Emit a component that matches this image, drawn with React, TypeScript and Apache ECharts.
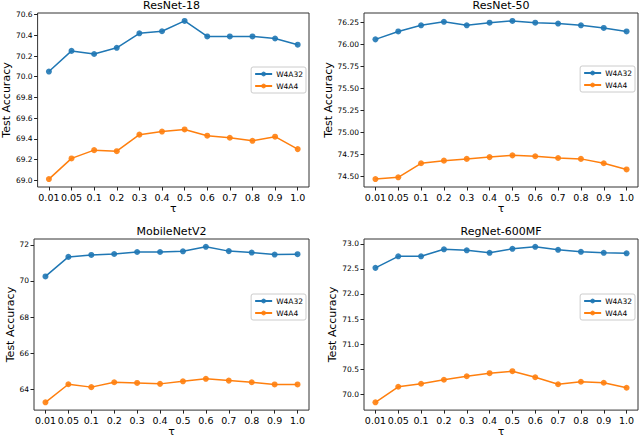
import React, { useEffect, useRef } from 'react';
import * as echarts from 'echarts';

// Temperature values on the shared x axis
const taus = ['0.01', '0.05', '0.1', '0.2', '0.3', '0.4', '0.5', '0.6', '0.7', '0.8', '0.9', '1.0'];

// ResNet-18
const resnet18W4A32 = [70.05, 70.25, 70.22, 70.28, 70.42, 70.44, 70.54, 70.39, 70.39, 70.39, 70.37, 70.31];
const resnet18W4A4 = [69.01, 69.21, 69.29, 69.28, 69.44, 69.47, 69.49, 69.43, 69.41, 69.38, 69.42, 69.30];
const resnet18Ticks = [69.0, 69.2, 69.4, 69.6, 69.8, 70.0, 70.2, 70.4, 70.6];

// ResNet-50
const resnet50W4A32 = [76.06, 76.15, 76.22, 76.26, 76.22, 76.25, 76.27, 76.25, 76.24, 76.22, 76.19, 76.15];
const resnet50W4A4 = [74.47, 74.49, 74.65, 74.68, 74.70, 74.72, 74.74, 74.73, 74.71, 74.70, 74.65, 74.58];
const resnet50Ticks = [74.5, 74.75, 75.0, 75.25, 75.5, 75.75, 76.0, 76.25];

// MobileNetV2
const mobilenetW4A32 = [70.25, 71.33, 71.44, 71.49, 71.6, 71.6, 71.64, 71.89, 71.65, 71.57, 71.46, 71.48];
const mobilenetW4A4 = [63.29, 64.29, 64.13, 64.4, 64.36, 64.31, 64.45, 64.59, 64.49, 64.4, 64.28, 64.28];
const mobilenetTicks = [64, 66, 68, 70, 72];

// RegNet-600MF
const regnetW4A32 = [72.52, 72.75, 72.75, 72.89, 72.87, 72.82, 72.9, 72.94, 72.88, 72.84, 72.82, 72.81];
const regnetW4A4 = [69.84, 70.15, 70.21, 70.29, 70.36, 70.42, 70.46, 70.34, 70.2, 70.25, 70.23, 70.13];
const regnetTicks = [70.0, 70.5, 71.0, 71.5, 72.0, 72.5, 73.0];

const seriesNames = ['W4A32', 'W4A4'];
const seriesColors = ['#1f77b4', '#ff7f0e'];

const panels = [
  { title: 'ResNet-18', a: resnet18W4A32, b: resnet18W4A4, ticks: resnet18Ticks, digits: 1 },
  { title: 'ResNet-50', a: resnet50W4A32, b: resnet50W4A4, ticks: resnet50Ticks, digits: 2 },
  { title: 'MobileNetV2', a: mobilenetW4A32, b: mobilenetW4A4, ticks: mobilenetTicks, digits: 0 },
  { title: 'RegNet-600MF', a: regnetW4A32, b: regnetW4A4, ticks: regnetTicks, digits: 1 },
];

// Pixel layout of the 2x2 grid of axes
const layout = [
  { left: 34, top: 13, width: 275, height: 174, nameGap: 23, legendTop: 67 },
  { left: 364, top: 13, width: 274, height: 174, nameGap: 29, legendTop: 66 },
  { left: 34, top: 239, width: 275, height: 174, nameGap: 18, legendTop: 294 },
  { left: 364, top: 239, width: 274, height: 174, nameGap: 24, legendTop: 294 },
];

const FONT = 'DejaVu Sans';

function buildOption() {
  const grid: any[] = [];
  const xAxis: any[] = [];
  const yAxis: any[] = [];
  const series: any[] = [];
  const title: any[] = [];
  const legend: any[] = [];

  panels.forEach((p, i) => {
    const L = layout[i];
    const all = p.a.concat(p.b);
    const lo = Math.min(...all);
    const hi = Math.max(...all);
    const pad = (hi - lo) * 0.05;

    grid.push({
      left: L.left,
      top: L.top,
      width: L.width,
      height: L.height,
      show: true,
      borderColor: '#333',
      borderWidth: 1,
      backgroundColor: 'transparent',
    });

    title.push({
      text: p.title,
      left: L.left + L.width / 2,
      top: L.top - 13,
      padding: 0,
      textAlign: 'center',
      textStyle: { fontFamily: FONT, fontSize: 11, fontWeight: 'normal', color: '#000' },
    });

    xAxis.push({
      type: 'category',
      gridIndex: i,
      data: taus,
      boundaryGap: true,
      axisLine: { show: false },
      axisTick: { show: true, alignWithLabel: true, length: 3.5, lineStyle: { color: '#222', width: 1 } },
      axisLabel: { fontFamily: FONT, fontSize: 9.5, color: '#000', margin: 5, interval: 0 },
      splitLine: { show: false },
      name: 'τ',
      nameLocation: 'middle',
      nameGap: 15,
      nameTextStyle: { fontFamily: FONT, fontSize: 11, color: '#000' },
    });

    yAxis.push({
      type: 'value',
      gridIndex: i,
      min: lo - pad,
      max: hi + pad,
      axisLine: { show: false },
      axisTick: { show: true, length: 3.5, customValues: p.ticks, lineStyle: { color: '#222', width: 1 } },
      axisLabel: {
        fontFamily: FONT,
        fontSize: 7.5,
        color: '#000',
        margin: 5,
        customValues: p.ticks,
        formatter: (v: number) => v.toFixed(p.digits),
      },
      splitLine: { show: false },
      name: 'Test Accuracy',
      nameLocation: 'middle',
      nameGap: L.nameGap,
      nameTextStyle: { fontFamily: FONT, fontSize: 11, color: '#000' },
    });

    [p.a, p.b].forEach((values, k) => {
      series.push({
        type: 'line',
        name: seriesNames[k],
        xAxisIndex: i,
        yAxisIndex: i,
        data: values,
        color: seriesColors[k],
        symbol: 'circle',
        symbolSize: 6,
        showSymbol: true,
        lineStyle: { width: 1.5, color: seriesColors[k] },
        itemStyle: { color: seriesColors[k], opacity: 0.9 },
        emphasis: { disabled: true },
      });
    });

    legend.push({
      data: seriesNames,
      orient: 'vertical',
      right: 640 - (L.left + L.width - 3),
      top: L.legendTop,
      itemWidth: 17,
      itemHeight: 6,
      itemGap: 4,
      padding: [3, 3, 3, 3],
      borderColor: '#ccc',
      borderWidth: 1,
      borderRadius: 2,
      backgroundColor: 'rgba(255,255,255,0.8)',
      textStyle: { fontFamily: FONT, fontSize: 7.5, color: '#000', padding: [0, 0, 0, -1] },
      selectedMode: false,
    });
  });

  return {
    animation: false,
    backgroundColor: '#fff',
    title,
    legend,
    grid,
    xAxis,
    yAxis,
    series,
  };
}

export default function App() {
  const ref = useRef<HTMLDivElement>(null);

  useEffect(() => {
    if (!ref.current) return;
    const chart = echarts.init(ref.current, undefined, { renderer: 'svg' });
    chart.setOption(buildOption());
    return () => chart.dispose();
  }, []);

  return (
    <div
      ref={ref}
      style={{ position: 'fixed', left: 0, top: 0, width: 640, height: 438, background: '#fff' }}
    />
  );
}
